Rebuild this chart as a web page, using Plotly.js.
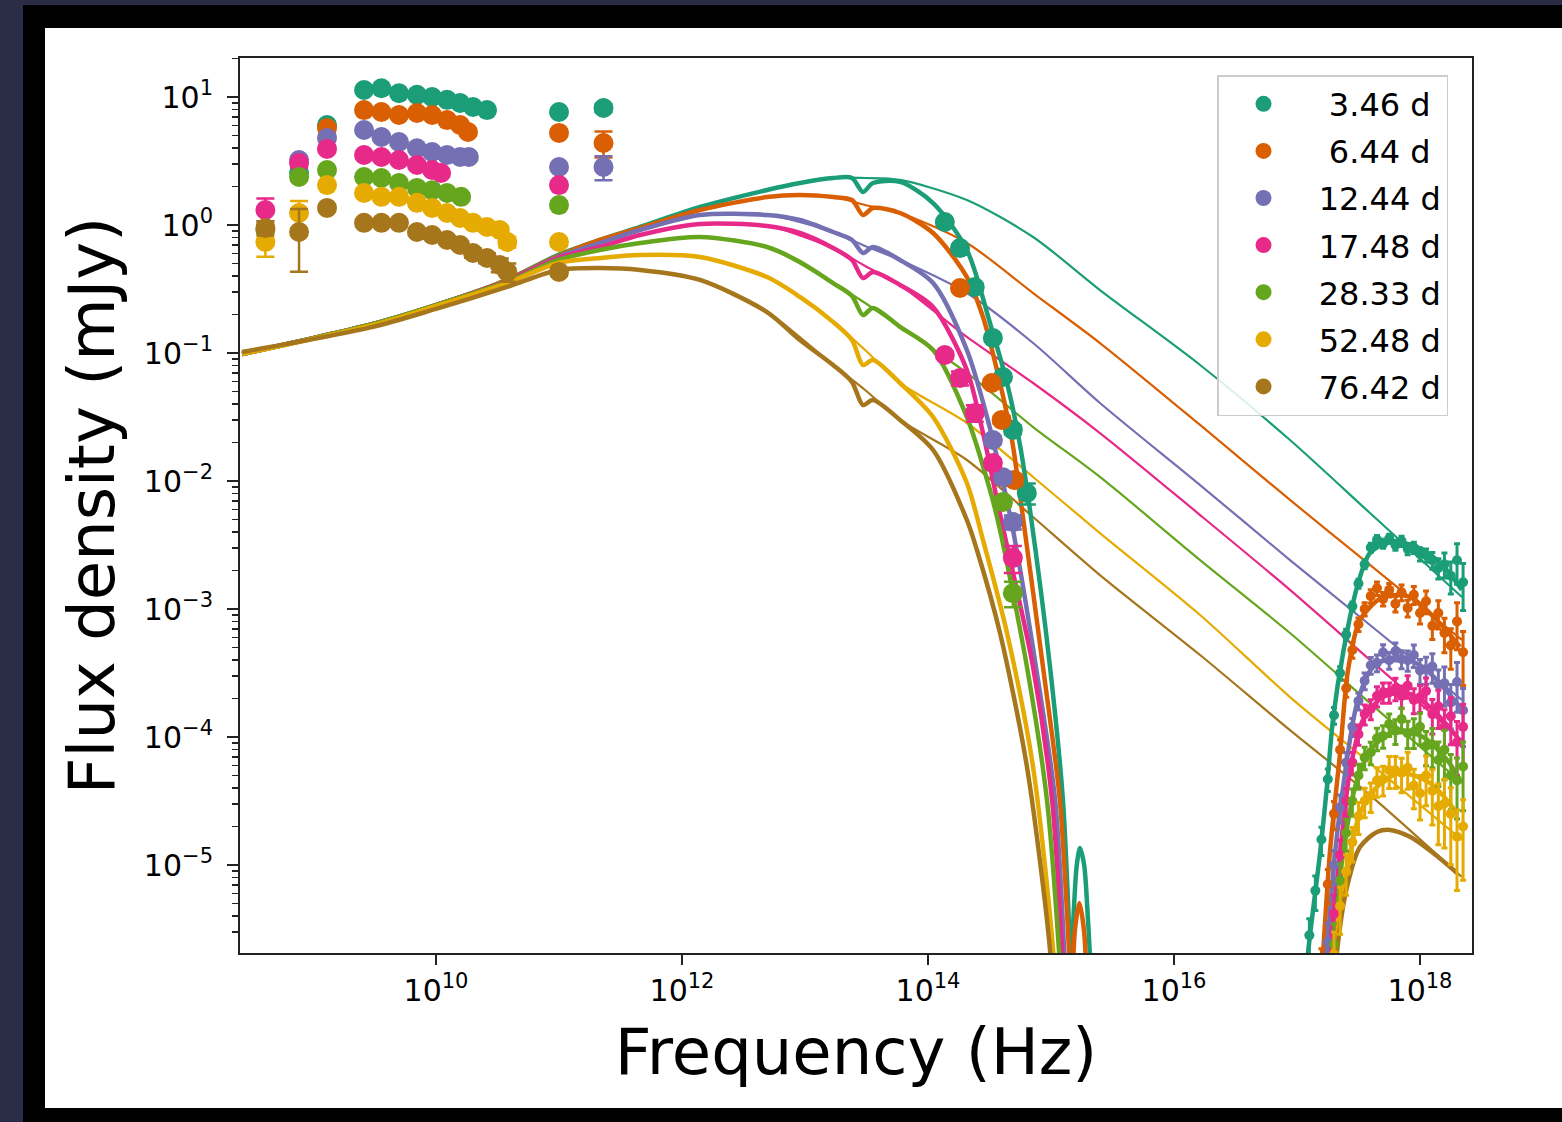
<!DOCTYPE html>
<html><head><meta charset="utf-8">
<script src="https://cdn.plot.ly/plotly-3.0.1.min.js"></script>
<style>html,body{margin:0;padding:0;background:#2b2d46;}#chart{width:1562px;height:1122px;}</style>
</head><body><div id="chart"></div>
<script>
// ---------- labels ----------
const EPOCH_LABELS = ['\u00a0\u00a03.46 d', '\u00a0\u00a06.44 d', '\u00a012.44 d', '\u00a017.48 d', '\u00a028.33 d', '\u00a052.48 d', '\u00a076.42 d'];
const COLORS = ['#1b9e77', '#d95f02', '#7570b3', '#e7298a', '#66a61e', '#e6ab02', '#a6761d'];
const X_TICKVALS = [1e10, 1e12, 1e14, 1e16, 1e18];
const X_TICKTEXT = ['10<sup>10</sup>', '10<sup>12</sup>', '10<sup>14</sup>', '10<sup>16</sup>', '10<sup>18</sup>'];
const Y_TICKVALS = [1e-5, 1e-4, 1e-3, 1e-2, 1e-1, 1, 10];
const Y_TICKTEXT = ['10<sup>\u22125</sup>', '10<sup>\u22124</sup>', '10<sup>\u22123</sup>', '10<sup>\u22122</sup>', '10<sup>\u22121</sup>', '10<sup>0</sup>', '10<sup>1</sup>'];

// ---------- model: absorbed (thick) curve, shared low-frequency grid ----------
const NU_MODEL_LO = [2.65e8, 3.08e9, 1.0e10, 3.78e10, 9.82e10, 2.15e11, 4.56e11, 1.40e12, 4.91e12, 9.10e12, 1.69e13, 2.41e13, 2.96e13, 3.57e13, 5.92e13, 1.10e14, 2.07e14];
const ABS_LO_0 = [0.0982, 0.1686, 0.237, 0.372, 0.583, 0.764, 0.965, 1.382, 1.877, 2.13, 2.33, 2.33, 1.811, 2.13, 2.17, 1.485, 0.638];
const ABS_LO_1 = [0.0982, 0.1686, 0.237, 0.372, 0.573, 0.764, 0.947, 1.310, 1.654, 1.715, 1.654, 1.568, 1.197, 1.358, 1.241, 0.866, 0.392];
const ABS_LO_2 = [0.0982, 0.1686, 0.237, 0.365, 0.562, 0.723, 0.914, 1.197, 1.197, 1.094, 0.882, 0.764, 0.604, 0.673, 0.533, 0.352, 0.1055];
const ABS_LO_3 = [0.0982, 0.1686, 0.237, 0.365, 0.552, 0.673, 0.835, 1.018, 0.982, 0.866, 0.661, 0.533, 0.385, 0.430, 0.340, 0.229, 0.0737];
const ABS_LO_4 = [0.0982, 0.1686, 0.237, 0.359, 0.533, 0.638, 0.723, 0.806, 0.673, 0.514, 0.352, 0.279, 0.198, 0.225, 0.160, 0.1055, 0.0316];
const ABS_LO_5 = [0.0982, 0.1655, 0.233, 0.352, 0.505, 0.552, 0.583, 0.562, 0.392, 0.274, 0.175, 0.1264, 0.0806, 0.0881, 0.0583, 0.0316, 0.00964];
const ABS_LO_6 = [0.1018, 0.160, 0.221, 0.328, 0.445, 0.461, 0.445, 0.372, 0.209, 0.1264, 0.0806, 0.0593, 0.0392, 0.0429, 0.0300, 0.01746, 0.00496];

// optical cut-off of the absorbed curve
const DROP_NU_0 = [3.19e14, 4.39e14, 5.60e14, 6.75e14, 9.82e14, 1.25e15, 1.43e15, 1.51e15];
const DROP_F_0 = [0.1716, 0.0583, 0.0191, 0.00593, 3.52e-4, 3.22e-5, 2.17e-6, 7.4e-7];
const DROP_NU_1 = [2.80e14, 3.85e14, 4.82e14, 5.81e14, 8.61e14, 1.18e15, 1.40e15, 1.48e15];
const DROP_F_1 = [0.191, 0.0583, 0.0209, 0.00593, 3.52e-4, 3.22e-5, 2.17e-6, 7.4e-7];
const DROP_NU_2 = [3.02e14, 4.07e14, 4.91e14, 7.55e14, 1.08e15, 1.28e15, 1.35e15];
const DROP_F_2 = [0.0316, 0.00964, 0.00414, 3.52e-4, 3.22e-5, 2.17e-6, 7.4e-7];
const DROP_NU_3 = [2.80e14, 3.64e14, 4.23e14, 7.15e14, 1.02e15, 1.23e15, 1.30e15];
const DROP_F_3 = [0.0237, 0.00711, 0.00365, 3.52e-4, 3.22e-5, 2.17e-6, 7.4e-7];
const DROP_NU_4 = [3.19e14, 3.85e14, 6.38e14, 9.27e14, 1.16e15, 1.23e15];
const DROP_F_4 = [0.00851, 0.00414, 3.52e-4, 3.22e-5, 2.17e-6, 7.4e-7];
const DROP_NU_5 = [2.80e14, 4.39e14, 7.15e14, 1.04e15, 1.10e15];
const DROP_F_5 = [0.00346, 6.49e-4, 5.83e-5, 2.17e-6, 7.4e-7];
const DROP_NU_6 = [2.50e14, 3.85e14, 6.38e14, 9.82e14, 1.04e15];
const DROP_F_6 = [0.00289, 6.49e-4, 5.83e-5, 2.17e-6, 7.4e-7];

// small UV bumps of the absorbed curve (only the two earliest epochs reach the axis)
const BUMP_NU_0 = [1.43e15, 1.52e15, 1.62e15, 1.72e15, 1.86e15, 2.0e15, 2.2e15];
const BUMP_F_0 = [7e-7, 3.7e-6, 1.0e-5, 1.36e-5, 1.0e-5, 3.7e-6, 7e-7];
const BUMP_NU_1 = [1.48e15, 1.56e15, 1.70e15, 1.86e15, 1.98e15];
const BUMP_F_1 = [7e-7, 3.0e-6, 5.05e-6, 3.0e-6, 7e-7];

// X-ray part of the absorbed curve
const XM_NU_0 = [1.16e17, 1.23e17, 1.54e17, 1.75e17, 1.96e17, 2.37e17, 3.08e17, 3.92e17, 5.70e17, 9.46e17, 1.46e18, 2.19e18];
const XM_F_0 = [8.8e-7, 2.05e-6, 1.24e-5, 4.07e-5, 1.36e-4, 4.53e-4, 1.49e-3, 2.74e-3, 3.34e-3, 3.05e-3, 2.29e-3, 1.41e-3];
const XM_NU_1 = [1.54e17, 1.63e17, 1.85e17, 2.24e17, 2.60e17, 3.25e17, 5.0e17, 8.30e17, 1.37e18, 2.12e18];
const XM_F_1 = [8.8e-7, 2.05e-6, 1.24e-5, 7.50e-5, 3.34e-4, 8.20e-4, 1.24e-3, 1.24e-3, 8.20e-4, 5.05e-4];
const XM_NU_2 = [1.66e17, 1.75e17, 2.04e17, 2.37e17, 3.08e17, 4.15e17, 6.50e17, 1.06e18, 1.54e18, 2.12e18];
const XM_F_2 = [8.8e-7, 2.05e-6, 1.24e-5, 4.07e-5, 1.84e-4, 3.52e-4, 4.22e-4, 3.52e-4, 2.46e-4, 1.71e-4];
const XM_NU_3 = [1.75e17, 1.85e17, 2.24e17, 2.70e17, 3.44e17, 5.0e17, 7.84e17, 1.21e18, 2.0e18];
const XM_F_3 = [8.8e-7, 2.05e-6, 1.24e-5, 5.52e-5, 1.36e-4, 2.05e-4, 2.21e-4, 1.71e-4, 1.0e-4];
const XM_NU_4 = [1.82e17, 1.96e17, 2.37e17, 3.08e17, 4.15e17, 6.50e17, 1.06e18, 1.66e18, 2.12e18];
const XM_F_4 = [8.8e-7, 2.05e-6, 1.24e-5, 4.61e-5, 8.35e-5, 1.13e-4, 1.0e-4, 6.61e-5, 4.61e-5];
const XM_NU_5 = [1.85e17, 1.96e17, 2.55e17, 3.25e17, 4.47e17, 6.87e17, 1.21e18, 2.0e18];
const XM_F_5 = [8.8e-7, 2.05e-6, 9.14e-6, 2.55e-5, 4.07e-5, 5.23e-5, 4.37e-5, 2.55e-5];
const XM_NU_6 = [2.0e17, 2.11e17, 2.55e17, 3.25e17, 4.47e17, 5.70e17, 8.30e17, 1.28e18, 2.0e18];
const XM_F_6 = [8.8e-7, 2.05e-6, 6.73e-6, 1.38e-5, 1.81e-5, 1.88e-5, 1.66e-5, 1.24e-5, 8.66e-6];

// ---------- model: unabsorbed (thin) curve ----------
const THIN_NU = [1.40e12, 4.91e12, 1.69e13, 3.08e13, 5.92e13, 2.07e14, 7.15e14, 2.50e15, 1.63e16, 8.77e16, 3.92e17, 2.19e18];
const THIN_F_0 = [1.382, 1.877, 2.33, 2.33, 2.25, 1.568, 0.806, 0.3105, 0.0806, 0.0209, 0.00562, 0.00124];
const THIN_F_1 = [1.310, 1.654, 1.654, 1.433, 1.241, 0.723, 0.294, 0.1197, 0.0274, 0.00711, 0.00221, 5.73e-4];
const THIN_F_2 = [1.197, 1.197, 0.882, 0.685, 0.533, 0.294, 0.1197, 0.0407, 0.00930, 0.00241, 7.50e-4, 1.95e-4];
const THIN_F_3 = [1.018, 0.982, 0.661, 0.478, 0.340, 0.1334, 0.0583, 0.0237, 0.00542, 0.00141, 4.00e-4, 9.48e-5];
const THIN_F_4 = [0.806, 0.673, 0.352, 0.246, 0.160, 0.0698, 0.0264, 0.01075, 0.00241, 6.49e-4, 1.84e-4, 4.37e-5];
const THIN_F_5 = [0.562, 0.392, 0.175, 0.1055, 0.0583, 0.0284, 0.01075, 0.00392, 8.98e-4, 2.05e-4, 6.26e-5, 1.57e-5];
const THIN_F_6 = [0.372, 0.209, 0.0806, 0.0514, 0.0300, 0.01459, 0.00523, 0.00184, 4.37e-4, 1.13e-4, 3.52e-5, 8.06e-6];

// ---------- radio / mm data ----------
const R_NU_0 = [7.7e8, 1.3e9, 2.6e9, 3.6e9, 5.0e9, 7.0e9, 9.3e9, 1.23e10, 1.57e10, 2.0e10, 2.6e10, 1.0e11, 2.3e11];
const R_F_0 = [2.55, 6.04, 11.35, 11.7, 10.7, 10.4, 10.0, 9.5, 8.97, 8.36, 7.9, 7.64, 8.2];
const R_E_0 = [0.2, 0.3, 0.5, 0.5, 0.5, 0.5, 0.5, 0.4, 0.4, 0.4, 0.4, 0.3, 0.6];
const R_NU_1 = [1.3e9, 2.6e9, 3.6e9, 5.0e9, 7.0e9, 9.3e9, 1.23e10, 1.57e10, 1.82e10, 1.0e11, 2.3e11];
const R_F_1 = [5.73, 7.9, 7.64, 7.23, 7.5, 7.23, 6.6, 6.04, 5.33, 5.24, 4.37];
const R_E_1 = [0.3, 0.4, 0.4, 0.3, 0.3, 0.3, 0.3, 0.3, 0.3, 0.2, 1.0];
const R_NU_2 = [7.7e8, 1.3e9, 2.6e9, 3.6e9, 5.0e9, 7.0e9, 9.3e9, 1.23e10, 1.57e10, 1.85e10, 1.0e11, 2.3e11];
const R_F_2 = [3.22, 4.79, 5.52, 4.87, 4.45, 3.98, 3.72, 3.52, 3.40, 3.40, 2.84, 2.84];
const R_E_2 = [0.2, 0.2, 0.2, 0.2, 0.2, 0.2, 0.2, 0.2, 0.2, 0.2, 0.15, 0.6];
const R_NU_3 = [4.1e8, 7.7e8, 1.3e9, 2.6e9, 3.6e9, 5.0e9, 7.0e9, 9.3e9, 1.1e10, 1.0e11];
const R_F_3 = [1.31, 3.05, 3.93, 3.52, 3.40, 3.22, 2.94, 2.69, 2.55, 2.05];
const R_E_3 = [0.3, 0.2, 0.2, 0.2, 0.2, 0.15, 0.15, 0.15, 0.15, 0.1];
const R_NU_4 = [4.1e8, 7.7e8, 1.3e9, 2.6e9, 3.6e9, 5.0e9, 7.0e9, 9.3e9, 1.23e10, 1.6e10, 1.0e11];
const R_F_4 = [0.914, 2.37, 2.69, 2.37, 2.33, 2.13, 1.95, 1.87, 1.78, 1.66, 1.43];
const R_E_4 = [0.15, 0.15, 0.15, 0.12, 0.12, 0.1, 0.1, 0.1, 0.1, 0.1, 0.08];
const R_NU_5 = [4.1e8, 7.7e8, 1.3e9, 2.6e9, 3.6e9, 5.0e9, 7.0e9, 9.3e9, 1.23e10, 1.57e10, 2.0e10, 2.6e10, 3.3e10, 3.8e10, 1.0e11];
const R_F_5 = [0.736, 1.24, 2.05, 1.78, 1.66, 1.66, 1.49, 1.36, 1.24, 1.135, 1.04, 0.964, 0.914, 0.736, 0.736];
const R_E_5 = [0.17, 0.3, 0.1, 0.1, 0.1, 0.1, 0.08, 0.08, 0.08, 0.07, 0.07, 0.07, 0.07, 0.07, 0.05];
const R_NU_6 = [4.1e8, 7.7e8, 1.3e9, 2.6e9, 3.6e9, 5.0e9, 7.0e9, 9.3e9, 1.23e10, 1.57e10, 2.0e10, 2.6e10, 3.3e10, 3.8e10, 1.0e11];
const R_F_6 = [0.948, 0.881, 1.36, 1.04, 1.04, 1.04, 0.881, 0.836, 0.764, 0.698, 0.604, 0.552, 0.487, 0.43, 0.43];
const R_E_6 = [0.12, 0.45, 0.08, 0.06, 0.06, 0.06, 0.05, 0.05, 0.05, 0.05, 0.05, 0.05, 0.06, 0.07, 0.03];

// ---------- optical / NIR data ----------
const O_NU_0 = [1.37e14, 1.82e14, 2.4e14, 3.37e14, 4.07e14, 4.9e14, 6.36e14];
const O_F_0 = [1.055, 0.66, 0.328, 0.131, 0.0649, 0.0251, 0.00806];
const O_E_0 = [0.05, 0.03, 0.02, 0.008, 0.004, 0.002, 0.0015];
const O_NU_1 = [1.82e14, 3.3e14, 3.97e14, 5.02e14];
const O_F_1 = [0.322, 0.0583, 0.030, 0.0102];
const O_E_1 = [0.02, 0.004, 0.002, 0.001];
const O_NU_2 = [3.37e14, 4.07e14, 4.9e14];
const O_F_2 = [0.0209, 0.0107, 0.00478];
const O_E_2 = [0.0015, 0.001, 0.0006];
const O_NU_3 = [1.37e14, 1.82e14, 2.4e14, 3.37e14, 4.9e14];
const O_F_3 = [0.0964, 0.0638, 0.034, 0.0138, 0.00251];
const O_E_3 = [0.006, 0.008, 0.005, 0.001, 0.0006];
const O_NU_4 = [4.07e14, 4.9e14];
const O_F_4 = [0.00686, 0.00133];
const O_E_4 = [0.0005, 0.0003];

// ---------- X-ray data (shared frequency grid) ----------
const XR_NU = [1.26e17, 1.41e17, 1.58e17, 1.78e17, 2.0e17, 2.24e17, 2.51e17, 2.82e17, 3.16e17, 3.55e17, 3.98e17, 4.47e17, 5.01e17, 5.62e17, 6.31e17, 7.08e17, 7.94e17, 8.91e17, 1.0e18, 1.12e18, 1.26e18, 1.41e18, 1.58e18, 1.78e18, 2.0e18, 2.24e18];
const XR_F_0 = [2.82e-6, 6.31e-6, 1.58e-5, 4.68e-5, 1.48e-4, 3.16e-4, 6.31e-4, 1.05e-3, 1.58e-3, 2.24e-3, 3.02e-3, 3.47e-3, 3.24e-3, 3.55e-3, 3.16e-3, 3.39e-3, 2.95e-3, 3.02e-3, 2.69e-3, 2.63e-3, 2.40e-3, 2.09e-3, 2.24e-3, 1.82e-3, 2.40e-3, 1.62e-3];
const XR_REL_0 = [0.35, 0.3, 0.25, 0.2, 0.15, 0.12, 0.1, 0.08, 0.08, 0.08, 0.08, 0.08, 0.08, 0.08, 0.09, 0.09, 0.1, 0.1, 0.12, 0.12, 0.15, 0.18, 0.22, 0.28, 0.35, 0.4];
const XR_F_1 = [null, null, 1.58e-6, 7.08e-6, 2.51e-5, 7.94e-5, 2.40e-4, 4.79e-4, 7.59e-4, 1.0e-3, 1.26e-3, 1.45e-3, 1.20e-3, 1.41e-3, 1.10e-3, 1.35e-3, 1.02e-3, 1.29e-3, 9.3e-4, 1.15e-3, 7.4e-4, 9.3e-4, 6.5e-4, 5.2e-4, 8.0e-4, 4.6e-4];
const XR_REL_1 = [0, 0, 0.4, 0.3, 0.25, 0.2, 0.15, 0.14, 0.12, 0.12, 0.12, 0.12, 0.12, 0.12, 0.14, 0.14, 0.15, 0.16, 0.18, 0.2, 0.22, 0.25, 0.3, 0.35, 0.4, 0.45];
const XR_F_2 = [null, null, null, 2.51e-6, 1.0e-5, 2.82e-5, 6.31e-5, 1.20e-4, 1.91e-4, 2.75e-4, 3.63e-4, 3.80e-4, 4.57e-4, 3.98e-4, 4.68e-4, 4.07e-4, 3.98e-4, 4.37e-4, 3.31e-4, 3.39e-4, 3.55e-4, 2.57e-4, 2.63e-4, 1.86e-4, 2.69e-4, 1.62e-4];
const XR_REL_2 = [0, 0, 0, 0.4, 0.3, 0.25, 0.2, 0.16, 0.15, 0.15, 0.15, 0.15, 0.15, 0.15, 0.16, 0.16, 0.18, 0.2, 0.22, 0.24, 0.26, 0.3, 0.34, 0.38, 0.42, 0.48];
const XR_F_3 = [null, null, null, null, 4.17e-6, 1.20e-5, 3.16e-5, 6.31e-5, 1.05e-4, 1.51e-4, 1.66e-4, 2.09e-4, 2.24e-4, 2.24e-4, 2.40e-4, 2.09e-4, 2.51e-4, 1.95e-4, 2.04e-4, 2.29e-4, 1.51e-4, 1.74e-4, 1.20e-4, 1.45e-4, 9.1e-5, 1.20e-4];
const XR_REL_3 = [0, 0, 0, 0, 0.4, 0.3, 0.25, 0.2, 0.18, 0.18, 0.18, 0.18, 0.18, 0.18, 0.2, 0.2, 0.2, 0.22, 0.24, 0.26, 0.3, 0.33, 0.36, 0.4, 0.45, 0.5];
const XR_F_4 = [null, null, null, null, 2.40e-6, 7.59e-6, 1.78e-5, 3.16e-5, 5.01e-5, 6.92e-5, 7.59e-5, 9.77e-5, 1.02e-4, 1.26e-4, 1.12e-4, 1.38e-4, 1.07e-4, 1.10e-4, 1.20e-4, 8.51e-5, 8.71e-5, 6.61e-5, 7.94e-5, 5.01e-5, 4.57e-5, 5.89e-5];
const XR_REL_4 = [0, 0, 0, 0, 0.45, 0.35, 0.28, 0.24, 0.22, 0.2, 0.2, 0.2, 0.2, 0.2, 0.22, 0.22, 0.24, 0.26, 0.28, 0.3, 0.34, 0.38, 0.42, 0.46, 0.5, 0.55];
const XR_F_5 = [null, null, null, null, 2.0e-6, 4.79e-6, 8.91e-6, 1.51e-5, 2.40e-5, 3.16e-5, 3.47e-5, 4.57e-5, 4.68e-5, 5.50e-5, 5.50e-5, 5.25e-5, 5.75e-5, 4.17e-5, 3.63e-5, 5.01e-5, 3.80e-5, 2.88e-5, 3.02e-5, 2.51e-5, 1.66e-5, 2.0e-5];
const XR_REL_5 = [0, 0, 0, 0, 0.5, 0.4, 0.35, 0.3, 0.28, 0.26, 0.26, 0.26, 0.26, 0.28, 0.28, 0.3, 0.32, 0.34, 0.38, 0.42, 0.46, 0.5, 0.55, 0.6, 0.62, 0.62];

// ---------- assemble ----------
const ABS_LO = [ABS_LO_0, ABS_LO_1, ABS_LO_2, ABS_LO_3, ABS_LO_4, ABS_LO_5, ABS_LO_6];
const DROP_NU = [DROP_NU_0, DROP_NU_1, DROP_NU_2, DROP_NU_3, DROP_NU_4, DROP_NU_5, DROP_NU_6];
const DROP_F = [DROP_F_0, DROP_F_1, DROP_F_2, DROP_F_3, DROP_F_4, DROP_F_5, DROP_F_6];
const BUMP_NU = [BUMP_NU_0, BUMP_NU_1, [], [], [], [], []];
const BUMP_F = [BUMP_F_0, BUMP_F_1, [], [], [], [], []];
const XM_NU = [XM_NU_0, XM_NU_1, XM_NU_2, XM_NU_3, XM_NU_4, XM_NU_5, XM_NU_6];
const XM_F = [XM_F_0, XM_F_1, XM_F_2, XM_F_3, XM_F_4, XM_F_5, XM_F_6];
const THIN_F = [THIN_F_0, THIN_F_1, THIN_F_2, THIN_F_3, THIN_F_4, THIN_F_5, THIN_F_6];
const R_NU = [R_NU_0, R_NU_1, R_NU_2, R_NU_3, R_NU_4, R_NU_5, R_NU_6];
const R_F = [R_F_0, R_F_1, R_F_2, R_F_3, R_F_4, R_F_5, R_F_6];
const R_E = [R_E_0, R_E_1, R_E_2, R_E_3, R_E_4, R_E_5, R_E_6];
const O_NU = [O_NU_0, O_NU_1, O_NU_2, O_NU_3, O_NU_4, [], []];
const O_F = [O_F_0, O_F_1, O_F_2, O_F_3, O_F_4, [], []];
const O_E = [O_E_0, O_E_1, O_E_2, O_E_3, O_E_4, [], []];
const XR_F = [XR_F_0, XR_F_1, XR_F_2, XR_F_3, XR_F_4, XR_F_5, null];
const XR_REL = [XR_REL_0, XR_REL_1, XR_REL_2, XR_REL_3, XR_REL_4, XR_REL_5, null];

function joinSegs(segs) {
  const out = [];
  segs.forEach(s => { if (!s.length) return; if (out.length) out.push(null); out.push(...s); });
  return out;
}

const traces = [];
// thin (unabsorbed) model curves
for (let i = 0; i < 7; i++) {
  traces.push({
    x: THIN_NU, y: THIN_F[i], mode: 'lines', type: 'scatter',
    line: {color: COLORS[i], width: 2.2, shape: 'spline', smoothing: 0.8},
    legendgroup: 'g' + i, showlegend: false, hoverinfo: 'skip'
  });
}
// thick (absorbed) model curves
for (let i = 0; i < 7; i++) {
  const xs = joinSegs([NU_MODEL_LO.concat(DROP_NU[i]), BUMP_NU[i], XM_NU[i]]);
  const ys = joinSegs([ABS_LO[i].concat(DROP_F[i]), BUMP_F[i], XM_F[i]]);
  traces.push({
    x: xs, y: ys, mode: 'lines', type: 'scatter', connectgaps: false,
    line: {color: COLORS[i], width: 4.5, shape: 'spline', smoothing: 0.8},
    legendgroup: 'g' + i, showlegend: false, hoverinfo: 'skip'
  });
}
// data
for (let i = 0; i < 7; i++) {
  if (XR_F[i]) {
    const err = XR_F[i].map((v, k) => v == null ? null : v * XR_REL[i][k]);
    traces.push({
      x: XR_NU, y: XR_F[i], mode: 'markers', type: 'scatter',
      marker: {color: COLORS[i], size: 10},
      error_y: {type: 'data', array: err, color: COLORS[i], thickness: 3, width: 3},
      legendgroup: 'g' + i, showlegend: false, hoverinfo: 'skip'
    });
  }
  traces.push({
    x: R_NU[i].concat(O_NU[i]), y: R_F[i].concat(O_F[i]), mode: 'markers', type: 'scatter',
    name: EPOCH_LABELS[i],
    marker: {color: COLORS[i], size: 20},
    error_y: {type: 'data', array: R_E[i].concat(O_E[i]), color: COLORS[i], thickness: 2.5, width: 9},
    legendgroup: 'g' + i, showlegend: true
  });
}

// minor ticks for the y axis (2..9 per decade)
const yMinor = [];
for (let d = -6; d <= 1; d++) for (let m = 2; m <= 9; m++) yMinor.push(m * Math.pow(10, d));

// page frame (black border + white card) in paper coordinates
const PX = v => (v - 240) / 1232, PY = v => (953 - v) / 895;

const layout = {
  width: 1562, height: 1122,
  paper_bgcolor: '#2b2d46', plot_bgcolor: '#ffffff',
  margin: {l: 240, r: 90, t: 58, b: 169},
  font: {family: 'DejaVu Sans', color: '#000'},
  showlegend: true,
  shapes: [
    {type: 'rect', xref: 'paper', yref: 'paper', x0: PX(23), x1: PX(1580), y0: PY(1130), y1: PY(5), fillcolor: '#000', line: {width: 0}, layer: 'below'},
    {type: 'rect', xref: 'paper', yref: 'paper', x0: PX(45), x1: PX(1580), y0: PY(1108), y1: PY(28), fillcolor: '#fff', line: {width: 0}, layer: 'below'}
  ],
  xaxis: {
    type: 'log', range: [8.4065, 18.4228], tickmode: 'array', tickvals: X_TICKVALS, ticktext: X_TICKTEXT,
    ticks: 'outside', ticklen: 10, tickwidth: 2, tickcolor: '#222', tickfont: {size: 30, color: '#000'},
    showline: true, mirror: true, linewidth: 2, linecolor: '#222', showgrid: false, zeroline: false,
    title: {text: 'Frequency (Hz)', font: {size: 64, color: '#000'}, standoff: 22}
  },
  yaxis: {
    type: 'log', range: [-5.6875, 1.3047], tickmode: 'array', tickvals: Y_TICKVALS, ticktext: Y_TICKTEXT,
    ticks: 'outside', ticklen: 11, tickwidth: 2, tickcolor: '#222', tickfont: {size: 30, color: '#000'},
    ticklabelstandoff: 8,
    minor: {tickmode: 'array', tickvals: yMinor, ticks: 'outside', ticklen: 6, tickwidth: 1.5, tickcolor: '#222', showgrid: false},
    showline: true, mirror: true, linewidth: 2, linecolor: '#222', showgrid: false, zeroline: false,
    title: {text: 'Flux density (mJy)', font: {size: 64, color: '#000'}, standoff: 8}
  },
  legend: {
    x: PX(1217), y: PY(75), xanchor: 'left', yanchor: 'top',
    bgcolor: 'rgba(255,255,255,0.85)', bordercolor: '#cccccc', borderwidth: 1.5,
    font: {size: 32, family: 'DejaVu Sans', color: '#000'},
    itemwidth: 80, tracegroupgap: 2.5, itemsizing: 'trace'
  }
};

Plotly.newPlot('chart', traces, layout, {displayModeBar: false, staticPlot: true});
</script>
</body></html>
